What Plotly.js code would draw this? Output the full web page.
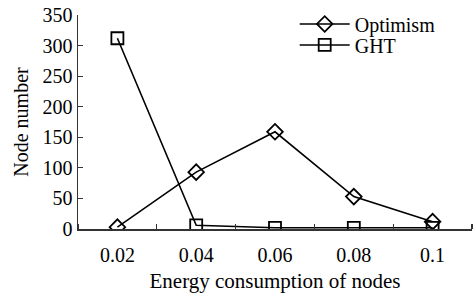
<!DOCTYPE html>
<html><head><meta charset="utf-8">
<script src="https://cdn.plot.ly/plotly-3.0.1.min.js"></script>
<style>html,body{margin:0;padding:0;background:#fff;}</style>
</head><body><div id="chart" style="width:474px;height:293px;"></div>
<script>
const energy = [0.02, 0.04, 0.06, 0.08, 0.1];
const optimism = [3, 93, 159, 53, 12];
const ght = [312, 6, 2, 2, 2];
const xTickLabels = ['0.02', '0.04', '0.06', '0.08', '0.1'];

const FAM = 'Liberation Serif';
function f(size) { return {family: FAM, size: size, color: '#000'}; }

const traces = [
  {x: energy, y: optimism, name: 'Optimism', type: 'scatter', mode: 'lines+markers', legend: 'legend',
   line: {color: '#000', width: 1.6},
   marker: {symbol: 'diamond-open', size: 12, color: '#000', line: {width: 1.8}}},
  {x: energy, y: ght, name: 'GHT', type: 'scatter', mode: 'lines+markers', legend: 'legend2',
   line: {color: '#000', width: 1.6},
   marker: {symbol: 'square-open', size: 12, color: '#000', line: {width: 1.8}}}
];

const legBase = {x: 0.55, xanchor: 'left', yanchor: 'middle', bgcolor: 'rgba(0,0,0,0)',
                 font: f(20), itemwidth: 50};

const layout = {
  width: 474, height: 293,
  margin: {l: 78, r: 2, t: 15, b: 64},
  paper_bgcolor: '#fff', plot_bgcolor: '#fff',
  font: f(20),
  showlegend: true,
  legend: Object.assign({y: 0.958}, legBase),
  legend2: Object.assign({y: 0.860}, legBase),
  xaxis: {
    range: [0.01, 0.11], tickvals: energy, ticktext: xTickLabels, ticks: '',
    showgrid: false, zeroline: false, showline: true, linecolor: '#333', linewidth: 1.5,
    minor: {tick0: 0.01, dtick: 0.02, ticks: 'inside', ticklen: 5, tickcolor: '#333', tickwidth: 1.2, showgrid: false},
    tickfont: f(20), ticklabelstandoff: 7,
    title: {text: 'Energy consumption of nodes', font: f(21), standoff: 12}
  },
  yaxis: {
    range: [0, 350], dtick: 50, tick0: 0, ticks: 'inside', ticklen: 5, tickcolor: '#333', tickwidth: 1.2,
    showgrid: false, zeroline: false, showline: true, linecolor: '#333', linewidth: 1.5,
    tickfont: f(20),
    title: {text: 'Node number', font: f(20), standoff: 8}
  }
};

Plotly.newPlot('chart', traces, layout, {displayModeBar: false, staticPlot: true});
</script></body></html>
